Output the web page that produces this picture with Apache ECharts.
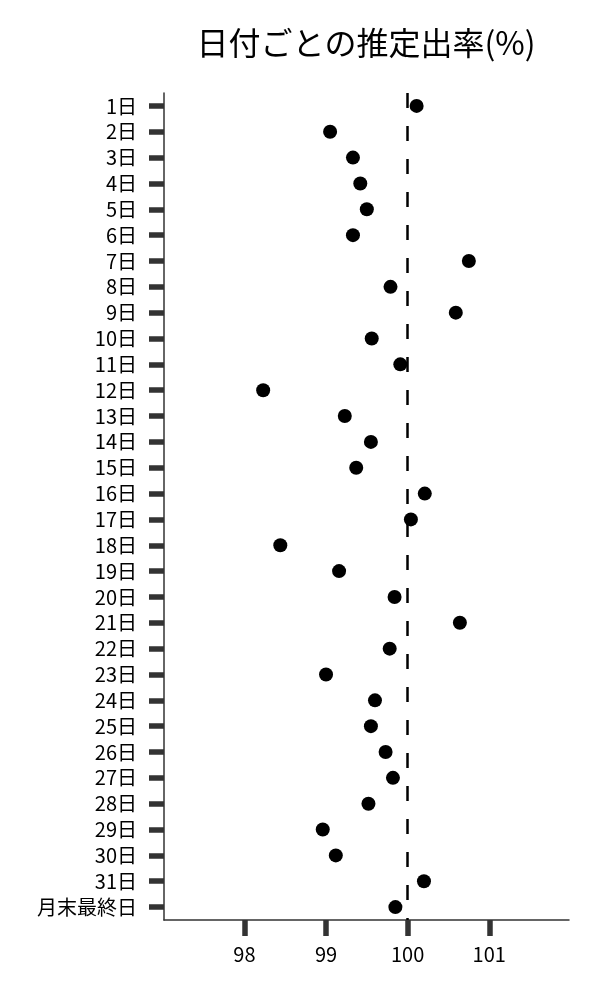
<!DOCTYPE html>
<html>
<head>
<meta charset="utf-8">
<script src="https://cdn.jsdelivr.net/npm/echarts@6/dist/echarts.min.js"></script>
<style>
  html, body { margin: 0; padding: 0; background: #fff; }
  #chart { width: 600px; height: 1000px; }
</style>
</head>
<body>
<div id="chart"></div>
<script>
// 日付ラベル
var days = ['1日', '2日', '3日', '4日', '5日', '6日', '7日', '8日', '9日', '10日',
  '11日', '12日', '13日', '14日', '15日', '16日', '17日', '18日', '19日', '20日',
  '21日', '22日', '23日', '24日', '25日', '26日', '27日', '28日', '29日', '30日',
  '31日', '月末最終日'];
// 推定出率(%)
var rates = [100.11, 99.05, 99.33, 99.42, 99.50, 99.33, 100.75, 99.79, 100.59, 99.56,
  99.91, 98.23, 99.23, 99.55, 99.37, 100.21, 100.04, 98.44, 99.16, 99.84,
  100.64, 99.78, 99.00, 99.60, 99.55, 99.73, 99.82, 99.52, 98.96, 99.12,
  100.20, 99.85];
var xTicks = [98, 99, 100, 101];
var refLine = 100;

var font = '"Noto Sans CJK JP", "Noto Sans", sans-serif';
var chart = echarts.init(document.getElementById('chart'));

var points = [];
for (var i = 0; i < days.length; i++) {
  points.push([rates[i], days[i]]);
}

var option = {
  backgroundColor: '#fff',
  animation: false,
  title: {
    text: '日付ごとの推定出率(%)',
    left: 361,
    textAlign: 'center',
    top: 22,
    textStyle: { fontFamily: font, fontSize: 32, fontWeight: 'normal', color: '#000' }
  },
  grid: { left: 164, right: 31, top: 93, bottom: 80 },
  xAxis: {
    type: 'value',
    min: 97.015,
    max: 101.977,
    splitLine: { show: false },
    axisLine: { show: true, lineStyle: { color: '#333', width: 1.5 } },
    axisTick: { show: true, length: 16, lineStyle: { color: '#333', width: 5.5 },
      customValues: xTicks },
    axisLabel: { fontFamily: font, fontSize: 20, color: '#000', margin: 24,
      customValues: xTicks }
  },
  yAxis: {
    type: 'category',
    data: days,
    inverse: true,
    axisLine: { show: true, onZero: false, lineStyle: { color: '#333', width: 1.5 } },
    axisTick: { show: true, alignWithLabel: true, length: 15, lineStyle: { color: '#333', width: 5.5 } },
    axisLabel: { fontFamily: font, fontSize: 20, color: '#000', margin: 27, interval: 0 },
    splitLine: { show: false }
  },
  series: [{
    type: 'scatter',
    data: points,
    symbolSize: 14,
    itemStyle: { color: '#000', opacity: 1 },
    markLine: {
      silent: true,
      symbol: 'none',
      label: { show: false },
      lineStyle: { color: '#000', type: [15, 18], width: 2.5, opacity: 1 },
      data: [{ xAxis: refLine }]
    }
  }]
};
chart.setOption(option);
</script>
</body>
</html>
